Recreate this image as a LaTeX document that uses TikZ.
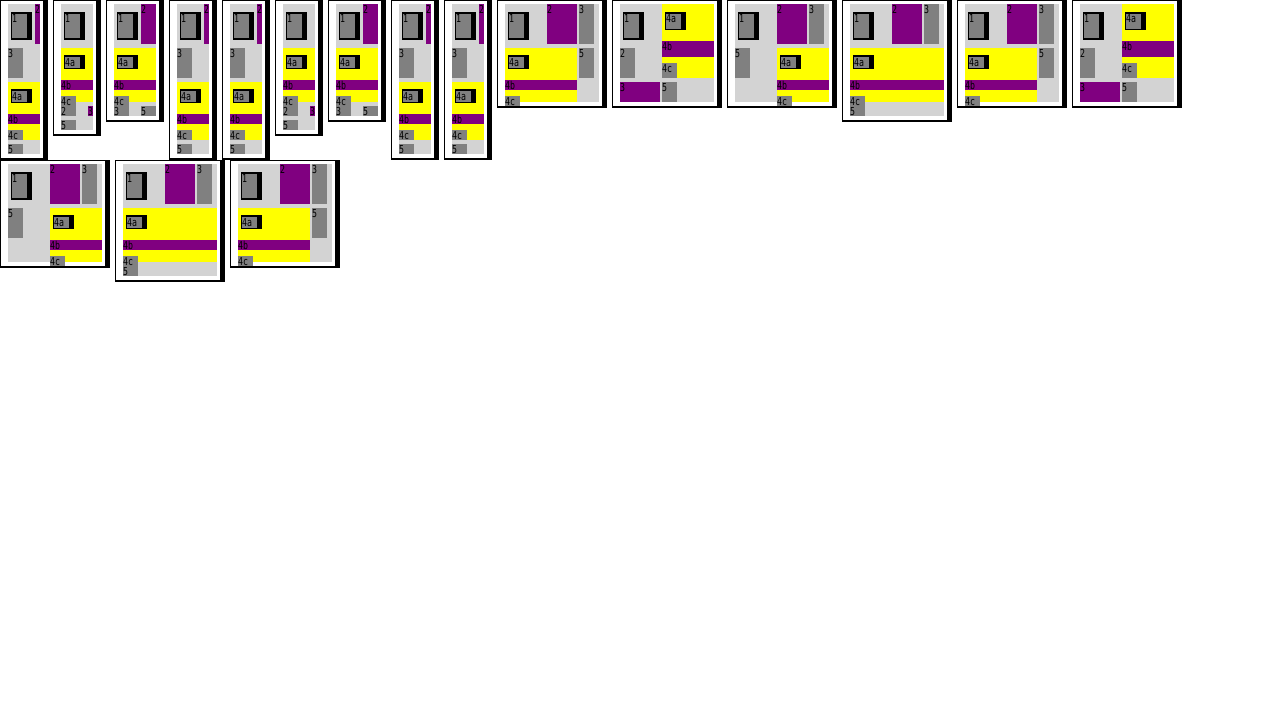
\documentclass[tikz,border=0pt]{standalone}
\usepackage{fontspec}
\newfontfamily\lblfont[FakeStretch=0.75]{DejaVu Sans Mono}
\definecolor{boxlight}{HTML}{D3D3D3}
\definecolor{boxgrey}{HTML}{808080}
\definecolor{boxpurple}{HTML}{800080}
\definecolor{boxyellow}{HTML}{FFFF00}

% frame of one thumbnail, grey area #1 wide and #2 high
\newcommand{\thumbframe}[2]{%
  \fill[black] (-8,-4) rectangle (#1+8,#2+6);
  \fill[white] (-7,-3) rectangle (#1+3,#2+4);
  \fill[boxlight] (0,0) rectangle (#1,#2);}

% plain box: colour, x0, y0, x1, y1, label
\newcommand{\cell}[6]{%
  \fill[#1] (#2,#3) rectangle (#4,#5);
  \node[lbl] (\thumb-#6) at (#2,#3+1) {#6};}

% grey box with black edge: x, y, w, h, label
\newcommand{\shbox}[5]{%
  \fill[black] (#1-1,#2-2) rectangle (#1+#3+5,#2+#4+1.5);
  \fill[boxgrey] (#1,#2) rectangle (#1+#3,#2+#4);
  \node[lbl] (\thumb-#5) at (#1,#2+1) {#5};}

% narrow, everything stacked
\newcommand{\layoutA}{%
  \thumbframe{32}{150}
  \shbox{4}{9.5}{15}{24.5}{1}
  \cell{boxpurple}{27}{0}{32}{40}{2}
  \cell{boxgrey}{0}{44}{15}{74}{3}
  \fill[boxyellow] (0,78) rectangle (32,136);
  \shbox{4}{87}{15}{10.5}{4a}
  \cell{boxpurple}{0}{110}{32}{120}{4b}
  \cell{boxgrey}{0}{126}{15}{136}{4c}
  \cell{boxgrey}{0}{140}{15}{150}{5}}

% narrow, 2 and 3 below 4
\newcommand{\layoutB}{%
  \thumbframe{32}{126}
  \shbox{4}{9.5}{15}{24.5}{1}
  \fill[boxyellow] (0,44) rectangle (32,98);
  \shbox{4}{53}{15}{10.5}{4a}
  \cell{boxpurple}{0}{76}{32}{86}{4b}
  \cell{boxgrey}{0}{92}{15}{102}{4c}
  \cell{boxgrey}{0}{102}{15}{112}{2}
  \cell{boxpurple}{27}{102}{32}{112}{3}
  \cell{boxgrey}{0}{116}{15}{126}{5}}

% narrow, 2 beside 1
\newcommand{\layoutC}{%
  \thumbframe{42}{112}
  \shbox{4}{9.5}{15}{24.5}{1}
  \cell{boxpurple}{27}{0}{42}{40}{2}
  \fill[boxyellow] (0,44) rectangle (42,98);
  \shbox{4}{53}{15}{10.5}{4a}
  \cell{boxpurple}{0}{76}{42}{86}{4b}
  \cell{boxgrey}{0}{92}{15}{102}{4c}
  \cell{boxgrey}{0}{102}{15}{112}{3}
  \cell{boxgrey}{27}{102}{42}{112}{5}}

% wide, 4 left and 5 right
\newcommand{\layoutD}{%
  \thumbframe{94}{98}
  \shbox{4}{9.5}{15}{24.5}{1}
  \cell{boxpurple}{42}{0}{72}{40}{2}
  \cell{boxgrey}{74}{0}{89}{40}{3}
  \fill[boxyellow] (0,44) rectangle (72,98);
  \shbox{4}{53}{15}{10.5}{4a}
  \cell{boxpurple}{0}{76}{72}{86}{4b}
  \cell{boxgrey}{0}{92}{15}{102}{4c}
  \cell{boxgrey}{74}{44}{89}{74}{5}}

% wide, 4 top right
\newcommand{\layoutE}{%
  \thumbframe{94}{98}
  \shbox{4}{9.5}{15}{24.5}{1}
  \fill[boxyellow] (42,0) rectangle (94,74);
  \shbox{46}{9.5}{15}{15}{4a}
  \cell{boxpurple}{42}{37}{94}{53}{4b}
  \cell{boxgrey}{42}{59}{57}{74}{4c}
  \cell{boxgrey}{0}{44}{15}{74}{2}
  \cell{boxpurple}{0}{78}{40}{98}{3}
  \cell{boxgrey}{42}{78}{57}{98}{5}}

% wide, 5 left and 4 right
\newcommand{\layoutF}{%
  \thumbframe{94}{98}
  \shbox{4}{9.5}{15}{24.5}{1}
  \cell{boxpurple}{42}{0}{72}{40}{2}
  \cell{boxgrey}{74}{0}{89}{40}{3}
  \cell{boxgrey}{0}{44}{15}{74}{5}
  \fill[boxyellow] (42,44) rectangle (94,98);
  \shbox{46}{53}{15}{10.5}{4a}
  \cell{boxpurple}{42}{76}{94}{86}{4b}
  \cell{boxgrey}{42}{92}{57}{102}{4c}}

% wide, 4 full width
\newcommand{\layoutG}{%
  \thumbframe{94}{112}
  \shbox{4}{9.5}{15}{24.5}{1}
  \cell{boxpurple}{42}{0}{72}{40}{2}
  \cell{boxgrey}{74}{0}{89}{40}{3}
  \fill[boxyellow] (0,44) rectangle (94,98);
  \shbox{4}{53}{15}{10.5}{4a}
  \cell{boxpurple}{0}{76}{94}{86}{4b}
  \cell{boxgrey}{0}{92}{15}{102}{4c}
  \cell{boxgrey}{0}{102}{15}{112}{5}}

\begin{document}
\begin{tikzpicture}[x=1pt, y=-1pt,
    lbl/.style={anchor=north west, inner sep=0pt, text=black,
      font=\lblfont\fontsize{11}{11}\selectfont}]
    \useasboundingbox[fill=white] (0,0) rectangle (1280,720);

    % first row
    \begin{scope}[shift={(8,4)}]\def\thumb{t1}\layoutA\end{scope}
    \begin{scope}[shift={(61,4)}]\def\thumb{t2}\layoutB\end{scope}
    \begin{scope}[shift={(114,4)}]\def\thumb{t3}\layoutC\end{scope}
    \begin{scope}[shift={(177,4)}]\def\thumb{t4}\layoutA\end{scope}
    \begin{scope}[shift={(230,4)}]\def\thumb{t5}\layoutA\end{scope}
    \begin{scope}[shift={(283,4)}]\def\thumb{t6}\layoutB\end{scope}
    \begin{scope}[shift={(336,4)}]\def\thumb{t7}\layoutC\end{scope}
    \begin{scope}[shift={(399,4)}]\def\thumb{t8}\layoutA\end{scope}
    \begin{scope}[shift={(452,4)}]\def\thumb{t9}\layoutA\end{scope}
    \begin{scope}[shift={(505,4)}]\def\thumb{t10}\layoutD\end{scope}
    \begin{scope}[shift={(620,4)}]\def\thumb{t11}\layoutE\end{scope}
    \begin{scope}[shift={(735,4)}]\def\thumb{t12}\layoutF\end{scope}
    \begin{scope}[shift={(850,4)}]\def\thumb{t13}\layoutG\end{scope}
    \begin{scope}[shift={(965,4)}]\def\thumb{t14}\layoutD\end{scope}
    \begin{scope}[shift={(1080,4)}]\def\thumb{t15}\layoutE\end{scope}

    % second row
    \begin{scope}[shift={(8,164)}]\def\thumb{t16}\layoutF\end{scope}
    \begin{scope}[shift={(123,164)}]\def\thumb{t17}\layoutG\end{scope}
    \begin{scope}[shift={(238,164)}]\def\thumb{t18}\layoutD\end{scope}
\end{tikzpicture}
\end{document}
